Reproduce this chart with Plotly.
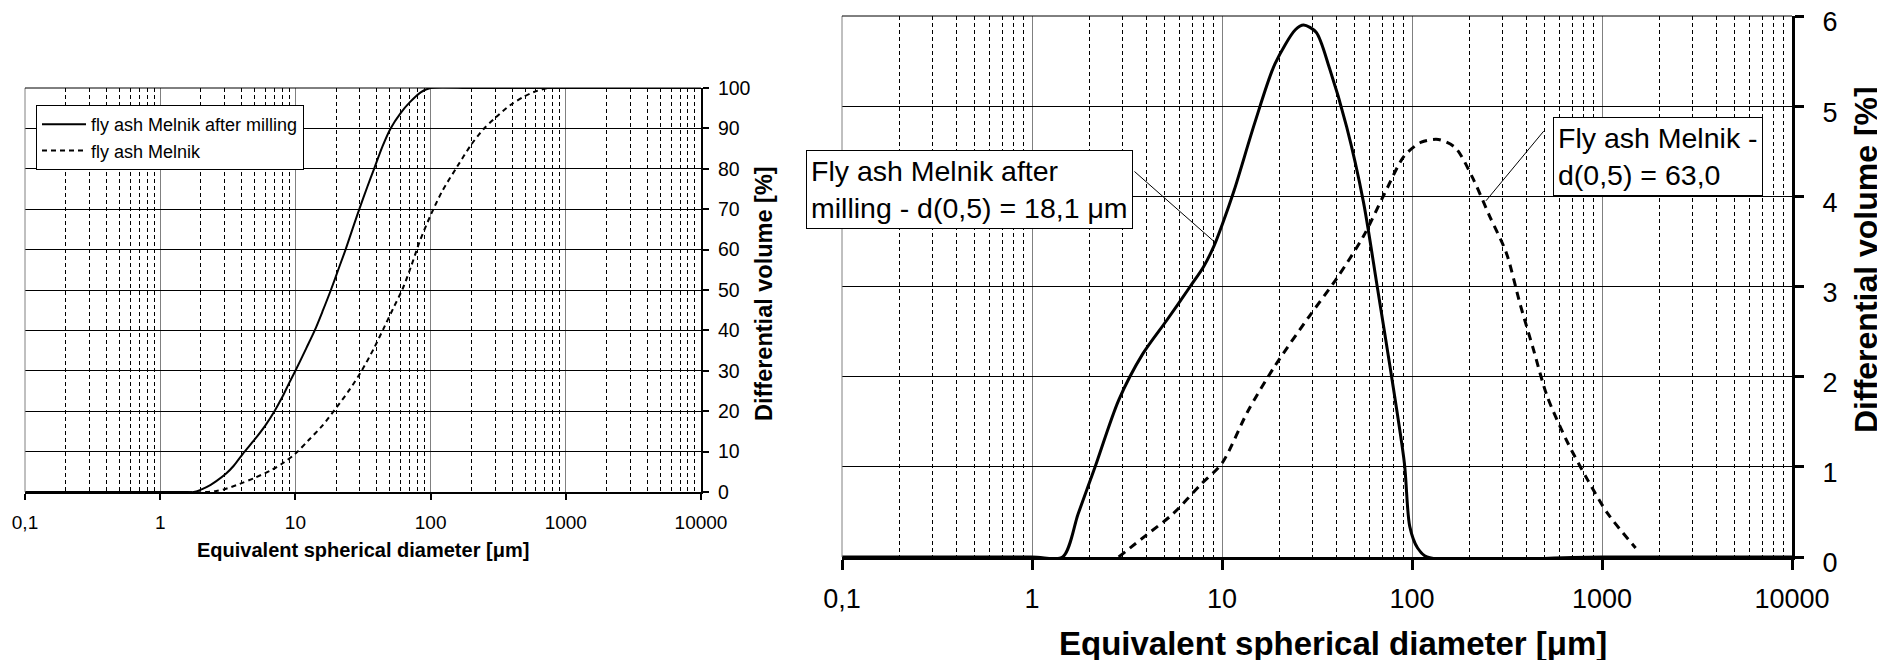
import math
import plotly.graph_objects as go

# ---------------- data ----------------
tick_vals = [0.1, 1, 10, 100, 1000, 10000]
tick_text = ["0,1", "1", "10", "100", "1000", "10000"]
minor_vals = [m * 10 ** e for e in range(-1, 4) for m in range(2, 10)]

# cumulative curves (left chart)
cum_milled_x = [0.1, 0.5, 1.0, 1.5, 1.77, 2.2, 2.6, 3.06, 3.5, 4.1, 5.0, 6.0, 7.0, 8.0, 9.0, 10,
                12, 13.9, 16, 18.3, 21, 23.5, 27, 29.7, 34, 38.2, 44, 50.6, 60, 70.3, 85, 100,
                200, 500, 1000, 2000, 5000, 10000]
cum_milled_y = [0, 0, 0, 0, 0, 1.2, 2.7, 4.5, 6.5, 9.5, 13, 16.5, 20, 23.5, 27, 30,
                35.5, 40, 45, 50, 55.5, 60, 66, 70, 75.5, 80, 85.5, 90, 93.8, 96.5, 99, 100,
                100, 100, 100, 100, 100, 100]

cum_raw_x = [0.1, 1.0, 2.2, 2.6, 3.0, 3.87, 5.0, 6.7, 8.2, 10, 12.5, 15.9, 20, 25, 30.9,
             38, 45.7, 53, 62.5, 72, 83, 100, 122, 157, 200, 246, 300, 390, 480,
             580, 740, 1000, 3000, 10000]
cum_raw_y = [0, 0, 0, 0.25, 0.7, 2, 3.5, 5.5, 7.3, 9.5, 12.8, 16.5, 20.8, 25.2, 30,
             35.5, 41, 45.5, 50.5, 56, 62, 68.5, 74.5, 80.5, 86, 89.8, 92.6, 95.8, 97.7,
             99, 100, 100, 100, 100]

# differential curves (right chart)
diff_milled_x = [0.1, 1.0, 1.45, 1.75, 2.14, 2.86, 3.82, 5.1, 6.8, 8.0, 9.08, 10, 11.6, 14.9,
                 19, 24.4, 26.9, 31.3, 36.8, 45.3, 55.6, 65.6, 77.3, 91.2, 97.3, 107, 120,
                 1000, 10000]
diff_milled_y = [0, 0, 0, 0.48, 0.99, 1.74, 2.25, 2.62, 3.0, 3.22, 3.45, 3.68, 4.07, 4.82,
                 5.47, 5.85, 5.9, 5.82, 5.42, 4.77, 3.93, 3.0, 2.06, 1.04, 0.34, 0.1, 0,
                 0, 0]

diff_raw_x = [2.86, 3.98, 5.53, 7.7, 10, 13.7, 19, 28.8, 40.2, 55.6, 71.3, 91.2, 112, 137.8,
              169, 208, 255, 314, 370, 436, 515, 659, 843, 1073, 1503]
diff_raw_y = [0, 0.24, 0.48, 0.8, 1.04, 1.62, 2.12, 2.67, 3.09, 3.56, 4.02, 4.45, 4.6, 4.63,
              4.54, 4.21, 3.79, 3.37, 2.81, 2.3, 1.78, 1.27, 0.85, 0.48, 0.1]

left_y_ticks = [0, 10, 20, 30, 40, 50, 60, 70, 80, 90, 100]
right_y_ticks = [0, 1, 2, 3, 4, 5, 6]

name_milled = "fly ash Melnik after milling"
name_raw = "fly ash Melnik"
label_milled = "Fly ash Melnik after<br>milling - d(0,5) = 18,1 \u03bcm"
label_raw = "Fly ash Melnik -<br>d(0,5) = 63,0"
x_title = "Equivalent spherical diameter [\u03bcm]"
y_title = "Differential volume [%]"

# ---------------- layout helpers ----------------
PAGE_OFF = 8                      # default page margin around the figure
W, H = 1885, 660
FONT = "Liberation Sans, Arial, sans-serif"


def px_x(p):
    return (p - PAGE_OFF) / W


def px_y(p):
    return 1 - (p - PAGE_OFF) / H


fig = go.Figure()

# left chart
fig.add_trace(go.Scatter(x=cum_milled_x, y=cum_milled_y, mode="lines", name=name_milled,
                         line=dict(color="black", width=2, shape="spline", smoothing=0.8),
                         xaxis="x", yaxis="y"))
fig.add_trace(go.Scatter(x=cum_raw_x, y=cum_raw_y, mode="lines", name=name_raw,
                         line=dict(color="black", width=2, dash="5px,4px", shape="spline",
                                   smoothing=0.8),
                         xaxis="x", yaxis="y"))
# right chart
fig.add_trace(go.Scatter(x=diff_milled_x, y=diff_milled_y, mode="lines", showlegend=False,
                         line=dict(color="black", width=3, shape="spline", smoothing=0.8),
                         xaxis="x2", yaxis="y2"))
fig.add_trace(go.Scatter(x=diff_raw_x, y=diff_raw_y, mode="lines", showlegend=False,
                         line=dict(color="black", width=3, dash="8px,6px", shape="spline",
                                   smoothing=0.8),
                         xaxis="x2", yaxis="y2"))


def xaxis_cfg(domain, anchor, fsize, lw, tlen, standoff):
    return dict(domain=domain, anchor=anchor, type="log", range=[-1, 4],
                tickmode="array", tickvals=tick_vals, ticktext=tick_text,
                showgrid=True, gridcolor="#808080", gridwidth=1,
                minor=dict(tickmode="array", tickvals=minor_vals, showgrid=True,
                           gridcolor="black", gridwidth=1, griddash="4px,3px", ticks=""),
                showline=True, linecolor="black", linewidth=lw,
                ticks="outside", ticklen=tlen, tickwidth=lw, tickcolor="black",
                ticklabelstandoff=standoff, ticklabeloverflow="allow",
                tickfont=dict(family=FONT, size=fsize, color="black"),
                zeroline=False, fixedrange=True, automargin=False)


def yaxis_cfg(domain, anchor, rng, ticks_, fsize, lw, tlen, standoff, shift=0):
    return dict(domain=domain, anchor=anchor, side="right", range=rng,
                tickmode="array", tickvals=ticks_,
                showgrid=True, gridcolor="black", gridwidth=1,
                showline=True, linecolor="black", linewidth=lw,
                ticks="outside", ticklen=tlen, tickwidth=lw, tickcolor="black",
                ticklabelstandoff=standoff, ticklabelshift=shift,
                ticklabeloverflow="allow",
                tickfont=dict(family=FONT, size=fsize, color="black"),
                zeroline=False, fixedrange=True, automargin=False)


L_dom_x = [px_x(25), px_x(701)]
L_dom_y = [px_y(492), px_y(88)]
R_dom_x = [px_x(842), px_x(1792)]
R_dom_y = [px_y(557), px_y(16)]

shapes = []
for xr, yr in (("x", "y"), ("x2", "y2")):
    shapes.append(dict(type="line", xref=xr + " domain", yref=yr + " domain",
                       x0=0, x1=0, y0=0, y1=1, line=dict(color="#808080", width=1)))
    shapes.append(dict(type="line", xref=xr + " domain", yref=yr + " domain",
                       x0=0, x1=1, y0=1, y1=1, line=dict(color="black", width=1)))

annotations = [
    # axis titles
    dict(text="<b>" + x_title + "</b>", xref="paper", yref="paper", x=px_x(363), y=px_y(550),
         xanchor="center", yanchor="middle", showarrow=False,
         font=dict(family=FONT, size=20, color="black")),
    dict(text="<b>" + y_title + "</b>", xref="paper", yref="paper", x=px_x(764), y=px_y(294),
         xanchor="center", yanchor="middle", showarrow=False, textangle=-90,
         font=dict(family=FONT, size=23.5, color="black")),
    dict(text="<b>" + x_title + "</b>", xref="paper", yref="paper", x=px_x(1333), y=px_y(643),
         xanchor="center", yanchor="middle", showarrow=False,
         font=dict(family=FONT, size=33, color="black")),
    dict(text="<b>" + y_title + "</b>", xref="paper", yref="paper", x=px_x(1866), y=px_y(260),
         xanchor="center", yanchor="middle", showarrow=False, textangle=-90,
         font=dict(family=FONT, size=32, color="black")),
    # label boxes
    dict(text=label_milled, xref="paper", yref="paper", x=px_x(806), y=px_y(150),
         xanchor="left", yanchor="top", align="left", showarrow=False,
         bordercolor="black", borderwidth=1, borderpad=4, bgcolor="white",
         font=dict(family=FONT, size=28.5, color="black")),
    dict(text=label_raw, xref="paper", yref="paper", x=px_x(1553), y=px_y(117),
         xanchor="left", yanchor="top", align="left", showarrow=False,
         bordercolor="black", borderwidth=1, borderpad=4, bgcolor="white",
         font=dict(family=FONT, size=28.5, color="black")),
    # leader lines
    dict(text="", xref="x2", yref="y2", axref="x2", ayref="y2",
         x=math.log10(9.3), y=3.48, ax=math.log10(3.4), ay=4.29,
         showarrow=True, arrowhead=0, arrowwidth=1, arrowcolor="black",
         standoff=0, startstandoff=0),
    dict(text="", xref="x2", yref="y2", axref="x2", ayref="y2",
         x=math.log10(245), y=3.95, ax=math.log10(501), ay=4.74,
         showarrow=True, arrowhead=0, arrowwidth=1, arrowcolor="black",
         standoff=0, startstandoff=0),
]

fig.update_layout(
    width=W, height=H, autosize=False,
    margin=dict(l=0, r=0, t=0, b=0, pad=0, autoexpand=False),
    paper_bgcolor="white", plot_bgcolor="white",
    font=dict(family=FONT, color="black"),
    xaxis=xaxis_cfg(L_dom_x, "y", 19, 2, 6, 6),
    yaxis=yaxis_cfg(L_dom_y, "x", [0, 100], left_y_ticks, 19.5, 2, 6, 5),
    xaxis2=xaxis_cfg(R_dom_x, "y2", 27, 3, 10, 6),
    yaxis2=yaxis_cfg(R_dom_y, "x2", [0, 6], right_y_ticks, 27, 3, 9, 13, shift=6),
    showlegend=True,
    legend=dict(x=px_x(36), y=px_y(105), xanchor="left", yanchor="top",
                bordercolor="black", borderwidth=1, bgcolor="white",
                font=dict(family=FONT, size=18, color="black"),
                tracegroupgap=0, itemwidth=44),
    shapes=shapes,
    annotations=annotations,
)

fig.write_html("out.html")
